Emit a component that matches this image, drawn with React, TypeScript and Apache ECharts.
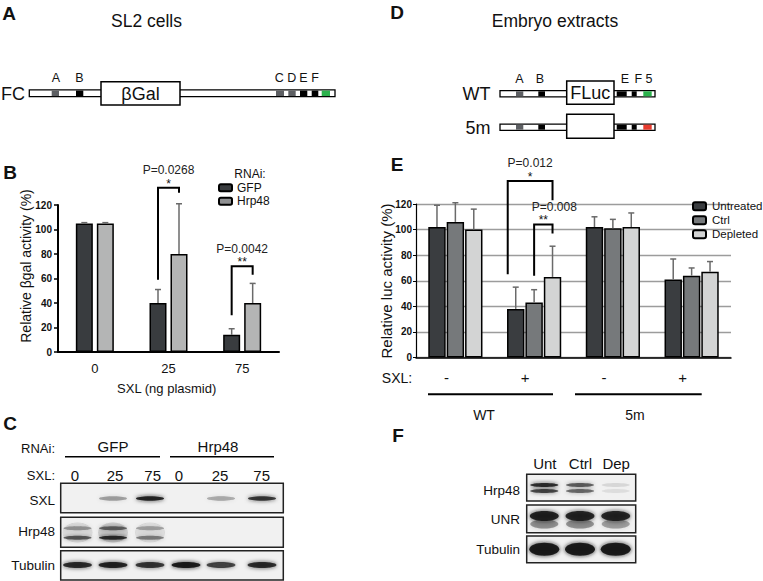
import React, { useEffect, useRef } from "react";
import * as echarts from "echarts";

// ---------- Panel B data ----------
const bCategories = ["0", "25", "75"];
const bSeriesNames = ["GFP", "Hrp48"];
const bGFP = [105, 40, 14];
const bGFPErr = [105.6, 51, 19];
const bHrp48 = [105, 80, 40];
const bHrp48Err = [105.6, 121, 56];
const bYTicks = { min: 0, max: 120, interval: 20 };
// [leftCat, leftBar, rightCat, rightBar, leftLegBottom, rightLegBottom, top]
const bBrackets = [
  [1, 0, 1, 1, 59, 130, 134],
  [2, 0, 2, 1, 30, 63, 70],
];
const bBracketP = ["P=0.0268", "P=0.0042"];
const bBracketStars = ["*", "**"];

// ---------- Panel E data ----------
const eCategories = ["-", "+", "-", "+"];
const eSeriesNames = ["Untreated", "Ctrl", "Depleted"];
const eUntreated = [102, 38, 102, 61];
const eUntreatedErr = [119, 55, 110, 77];
const eCtrl = [106, 43, 101, 64];
const eCtrlErr = [121, 53, 108, 70];
const eDepleted = [100, 63, 102, 67];
const eDepletedErr = [116, 87, 113, 75];
const eYTicks = { min: 0, max: 120, interval: 20 };
const eBrackets = [
  [1, 0, 1, 2, 65, 123, 138],
  [1, 1, 1, 2, 64, 97, 104],
];
const eBracketP = ["P=0.012", "P=0.008"];
const eBracketStars = ["*", "**"];
const eGroups = ["WT", "5m"];

// ---------- Blot data (band intensities, 0..1) ----------
const cRnai = ["GFP", "Hrp48"];
const cLanes = ["0", "25", "75", "0", "25", "75"];
const cRows = ["SXL", "Hrp48", "Tubulin"];
const cSXL = [0, 0.35, 0.9, 0, 0.3, 0.8];
const cHrp48Upper = [0.35, 0.55, 0.3, 0, 0, 0];
const cHrp48Lower = [0.6, 0.85, 0.45, 0, 0, 0];
const cTubulin = [0.85, 0.9, 0.8, 0.95, 0.7, 0.85];

const fLanes = ["Unt", "Ctrl", "Dep"];
const fRows = ["Hrp48", "UNR", "Tubulin"];
const fHrp48Upper = [0.85, 0.6, 0.1];
const fHrp48Lower = [0.7, 0.55, 0.08];
const fUNR = [0.9, 0.88, 0.88];
const fUNRSmear = [0.4, 0.4, 0.35];
const fTubulin = [0.95, 0.95, 0.95];

// ---------- layout constants ----------
const FONT = '"Liberation Sans", Arial, Helvetica, sans-serif';
const BAR_B = 17;
const GAP_B = 4;
const bOffsets = [-(BAR_B + GAP_B) / 2, (BAR_B + GAP_B) / 2];
const BAR_E = 17.4;
const GAP_E = 1;
const eOffsets = [-(BAR_E + GAP_E), 0, BAR_E + GAP_E];
const eLegDx = [
  [-8, 0],
  [0, 0],
];
const ePDx = [0, 11];

function txt(text: string, x: number, y: number, size: number, opts: any = {}) {
  return {
    type: "text",
    x,
    y,
    rotation: opts.rotation || 0,
    style: {
      text,
      fill: opts.color || "#111",
      font: `${opts.bold ? "bold " : ""}${size}px ${FONT}`,
      align: opts.align || "center",
      verticalAlign: "middle",
      textAlign: opts.align || "center",
      textVerticalAlign: "middle",
    },
    silent: true,
  };
}

function rect(x0: number, y0: number, x1: number, y1: number, style: any) {
  return { type: "rect", shape: { x: x0, y: y0, width: x1 - x0, height: y1 - y0 }, style, silent: true };
}

function line(x1: number, y1: number, x2: number, y2: number, w = 1.5) {
  return { type: "line", shape: { x1, y1, x2, y2 }, style: { stroke: "#000", lineWidth: w }, silent: true };
}

function construct(
  x0: number,
  x1: number,
  yc: number,
  h: number,
  segs: [number, number, string][],
  box: [number, number, number, number],
  boxText: string
) {
  const els: any[] = [];
  els.push(rect(x0, yc - h / 2, x1, yc + h / 2, { fill: "#fff", stroke: "#000", lineWidth: 1.3 }));
  segs.forEach(([a, b, c]) => els.push(rect(a, yc - h / 2 + 0.6, b, yc + h / 2 - 0.6, { fill: c })));
  els.push(rect(box[0], box[1], box[2], box[3], { fill: "#fff", stroke: "#000", lineWidth: 1.5 }));
  if (boxText) els.push(txt(boxText, (box[0] + box[2]) / 2, (box[1] + box[3]) / 2 + 0.5, 18));
  return els;
}

function band(cx: number, cy: number, w: number, h: number, a: number) {
  if (a <= 0) return null;
  const c = `rgba(22,22,22,${a})`;
  return {
    type: "ellipse",
    shape: { cx, cy, rx: w / 2, ry: h / 2 },
    style: { fill: c, shadowBlur: 4, shadowColor: c },
    silent: true,
  };
}

function errorSeries(name: string, gi: number, vals: number[], errs: number[], offset: number) {
  return {
    type: "custom",
    name: name + " err",
    xAxisIndex: gi,
    yAxisIndex: gi,
    data: vals.map((v, i) => [i, v, errs[i]]),
    encode: { x: 0, y: [1, 2] },
    z: 4,
    silent: true,
    renderItem: (params: any, api: any) => {
      const c = api.value(0);
      const p0 = api.coord([c, api.value(1)]);
      const p1 = api.coord([c, api.value(2)]);
      const x = p0[0] + offset;
      const st = { stroke: "#6a6a6a", lineWidth: 1.5 };
      return {
        type: "group",
        children: [
          { type: "line", shape: { x1: x, y1: p0[1], x2: x, y2: p1[1] }, style: st },
          { type: "line", shape: { x1: x - 3, y1: p1[1], x2: x + 3, y2: p1[1] }, style: st },
        ],
      };
    },
  };
}

function bracketSeries(
  gi: number,
  data: number[][],
  offsets: number[],
  pTexts: string[],
  stars: string[],
  legDx: number[][],
  pDx: number[],
  pGap: number
) {
  return {
    type: "custom",
    name: "brackets" + gi,
    xAxisIndex: gi,
    yAxisIndex: gi,
    data,
    encode: { x: [0, 2], y: [4, 5, 6] },
    z: 5,
    silent: true,
    renderItem: (params: any, api: any) => {
      const i = params.dataIndex;
      const lBot = api.coord([api.value(0), api.value(4)]);
      const rBot = api.coord([api.value(2), api.value(5)]);
      const top = api.coord([api.value(0), api.value(6)]);
      const xl = lBot[0] + offsets[api.value(1)] + legDx[i][0];
      const xr = rBot[0] + offsets[api.value(3)] + legDx[i][1];
      const yt = top[1];
      const xm = (xl + xr) / 2;
      return {
        type: "group",
        children: [
          {
            type: "polyline",
            shape: { points: [[xl, lBot[1]], [xl, yt], [xr, yt], [xr, rBot[1]]] },
            style: { stroke: "#000", lineWidth: 2, fill: "none" },
          },
          {
            type: "text",
            x: xm + pDx[i],
            y: yt - pGap,
            style: { text: pTexts[i], fill: "#222", font: `12px ${FONT}`, align: "center", verticalAlign: "middle" },
          },
          {
            type: "text",
            x: xm,
            y: yt - 4,
            style: { text: stars[i], fill: "#111", font: `12px ${FONT}`, align: "center", verticalAlign: "middle" },
          },
        ],
      };
    },
  };
}

function buildGraphics() {
  const g: any[] = [];
  // Panel letters
  g.push(txt("A", 9, 13, 19, { bold: true }));
  g.push(txt("B", 10, 172, 19, { bold: true }));
  g.push(txt("C", 10, 423, 19, { bold: true }));
  g.push(txt("D", 397, 12, 19, { bold: true }));
  g.push(txt("E", 397, 164, 19, { bold: true }));
  g.push(txt("F", 398, 435, 19, { bold: true }));

  // Panel A
  g.push(txt("SL2 cells", 146.5, 21, 17.5));
  g.push(txt("FC", 13, 93.5, 18));
  g.push(
    ...construct(
      29.3,
      335,
      93.3,
      6.7,
      [
        [51.7, 59, "#5d5f63"],
        [76, 83.3, "#000"],
        [276, 284, "#5d5f63"],
        [288.3, 295.7, "#5d5f63"],
        [300, 307.3, "#000"],
        [311.7, 318.3, "#000"],
        [321.7, 330, "#2bb24c"],
      ],
      [101, 81.7, 180, 105],
      "βGal"
    )
  );
  const aSites: [string, number][] = [
    ["A", 56],
    ["B", 79.3],
    ["C", 279.3],
    ["D", 291.7],
    ["E", 303.3],
    ["F", 315],
  ];
  aSites.forEach(([t, x]) => g.push(txt(t, x, 77.5, 12.5)));

  // Panel D
  g.push(txt("Embryo extracts", 555, 21, 17.5));
  g.push(txt("WT", 476.5, 94, 18));
  g.push(txt("5m", 478, 127.5, 18));
  const dSegs = (col: string): [number, number, string][] => [
    [516, 523.3, "#5d5f63"],
    [538.3, 545, "#000"],
    [616.7, 626.7, "#000"],
    [631.7, 636.7, "#000"],
    [643.3, 651.7, col],
  ];
  g.push(...construct(500, 655, 93.8, 6.2, dSegs("#2bb24c"), [566.7, 81, 614, 104.3], "FLuc"));
  g.push(...construct(500, 655, 127.2, 6.2, dSegs("#e63b2e"), [566.7, 114.3, 614, 138.3], ""));
  const dSites: [string, number][] = [
    ["A", 519.3],
    ["B", 540],
    ["E", 625],
    ["F", 638.3],
    ["5", 649],
  ];
  dSites.forEach(([t, x]) => g.push(txt(t, x, 78.5, 12.5)));

  // Panel B extras
  g.push(txt("Relative βgal activity (%)", 26, 266, 14, { rotation: Math.PI / 2 }));
  g.push(txt("SXL (ng plasmid)", 166.7, 388.5, 13));
  g.push(txt("RNAi:", 250, 173.5, 12));

  // Panel E extras
  g.push(txt("Relative luc activity (%)", 386, 281, 15, { rotation: Math.PI / 2 }));
  g.push(txt("SXL:", 397, 378, 14));
  g.push(line(428, 394.3, 553, 394.3, 2));
  g.push(line(575, 394.3, 701.7, 394.3, 2));
  g.push(txt(eGroups[0], 484, 415, 14));
  g.push(txt(eGroups[1], 635, 415, 14));

  // Panel C blot
  g.push(txt("RNAi:", 55, 448, 13, { align: "right" }));
  g.push(txt(cRnai[0], 113, 446.5, 15));
  g.push(txt(cRnai[1], 218, 446.5, 15));
  g.push(line(65, 456.7, 160, 456.7, 1.5));
  g.push(line(170, 456.7, 274, 456.7, 1.5));
  g.push(txt("SXL:", 55, 475, 13, { align: "right" }));
  const cLabelX = [75, 115, 152.7, 179, 220, 261.7];
  cLanes.forEach((t, i) => g.push(txt(t, cLabelX[i], 475.5, 15)));
  const cLaneX = [77.5, 113, 150, 186, 221, 262];
  const cRowY: [number, number][] = [
    [483.3, 512.7],
    [517.3, 547.3],
    [550.7, 580],
  ];
  const cRowLabelY = [500.7, 531.7, 565];
  cRows.forEach((r, i) => {
    g.push(rect(60.7, cRowY[i][0], 283.3, cRowY[i][1], { fill: "#f1f1f1", stroke: "#222", lineWidth: 1.5 }));
    g.push(txt(r, 55, cRowLabelY[i], 13.5, { align: "right" }));
  });
  cLaneX.forEach((x, i) => {
    const b1 = band(x, 498.5, 28, 4.5, cSXL[i]);
    if (b1) g.push(b1);
    if (cHrp48Lower[i] > 0) {
      g.push({
        type: "ellipse",
        shape: { cx: x, cy: 532.5, rx: 15, ry: 10 },
        style: { fill: `rgba(40,40,40,${cHrp48Upper[i] * 0.3})`, shadowBlur: 5, shadowColor: "rgba(40,40,40,0.2)" },
        silent: true,
      });
    }
    const b2 = band(x, 528.3, 28, 4, cHrp48Upper[i]);
    if (b2) g.push(b2);
    const b3 = band(x, 537.7, 28, 4, cHrp48Lower[i]);
    if (b3) g.push(b3);
    const b4 = band(x, 565, 29, 6, cTubulin[i]);
    if (b4) g.push(b4);
  });

  // Panel F blot
  const fLaneX = [544.3, 580, 615.7];
  fLanes.forEach((t, i) => g.push(txt(t, fLaneX[i] + 0.5, 463, 15)));
  const fRowY: [number, number][] = [
    [474.3, 501],
    [505, 532.7],
    [536, 562.7],
  ];
  const fRowLabelY = [490, 519, 549];
  fRows.forEach((r, i) => {
    g.push(rect(526.7, fRowY[i][0], 635.7, fRowY[i][1], { fill: "#f1f1f1", stroke: "#222", lineWidth: 1.5 }));
    g.push(txt(r, 520, fRowLabelY[i], 13.5, { align: "right" }));
  });
  fLaneX.forEach((x, i) => {
    const a = band(x, 485, 28, 4, fHrp48Upper[i]);
    if (a) g.push(a);
    const b = band(x, 491, 28, 4, fHrp48Lower[i]);
    if (b) g.push(b);
    const s = band(x, 524, 28, 9, fUNRSmear[i]);
    if (s) g.push(s);
    const u = band(x, 516, 29, 10, fUNR[i]);
    if (u) g.push(u);
    const t = band(x, 549.3, 30, 13, fTubulin[i]);
    if (t) g.push(t);
  });

  return g;
}

export default function App() {
  const ref = useRef<HTMLDivElement>(null);
  useEffect(() => {
    if (!ref.current) return;
    const chart = echarts.init(ref.current, undefined, { renderer: "svg" });
    const barStyle = (color: string) => ({ color, borderColor: "#000", borderWidth: 1.5 });
    const option: any = {
      animation: false,
      backgroundColor: "#fff",
      textStyle: { fontFamily: FONT },
      legend: [
        {
          data: [bSeriesNames[0], { name: bSeriesNames[1], itemStyle: { color: "#8f9092" } }],
          orient: "vertical",
          left: 218,
          top: 181.5,
          padding: 0,
          itemWidth: 13,
          itemHeight: 7,
          itemGap: 1,
          selectedMode: false,
          textStyle: { fontSize: 12, color: "#111", lineHeight: 12.5 },
        },
        {
          data: eSeriesNames,
          orient: "vertical",
          left: 692,
          top: 200,
          padding: 0,
          itemWidth: 13,
          itemHeight: 8,
          itemGap: 1.5,
          selectedMode: false,
          textStyle: { fontSize: 11.5, color: "#111", lineHeight: 12.5, padding: [0, 0, 0, 1] },
        },
      ],
      grid: [
        { left: 58, top: 205, width: 221, height: 147 },
        { left: 416, top: 204, width: 315, height: 153.5 },
      ],
      xAxis: [
        {
          type: "category",
          gridIndex: 0,
          data: bCategories,
          axisLine: { lineStyle: { color: "#000", width: 2 } },
          axisTick: { show: false },
          axisLabel: { fontSize: 13, color: "#111", margin: 10 },
        },
        {
          type: "category",
          gridIndex: 1,
          data: eCategories,
          axisLine: { lineStyle: { color: "#000", width: 1.5 } },
          axisTick: { show: false },
          axisLabel: { fontSize: 15, color: "#111", margin: 12, padding: [0, 18, 0, 0] },
        },
      ],
      yAxis: [
        {
          type: "value",
          gridIndex: 0,
          ...bYTicks,
          axisLine: { show: true, lineStyle: { color: "#000", width: 2 } },
          axisTick: { show: true, length: 4, lineStyle: { color: "#000", width: 1.5 } },
          axisLabel: { fontSize: 10, fontWeight: "bold", color: "#111", margin: 6 },
          splitLine: { show: false },
        },
        {
          type: "value",
          gridIndex: 1,
          ...eYTicks,
          axisLine: { show: true, lineStyle: { color: "#000", width: 1.2 } },
          axisTick: { show: true, length: 3, lineStyle: { color: "#000", width: 1 } },
          axisLabel: { fontSize: 10, fontWeight: "bold", color: "#111", margin: 4 },
          splitLine: { show: true, lineStyle: { color: "#9c9c9c", width: 1.3 } },
        },
      ],
      series: [
        {
          type: "bar",
          name: bSeriesNames[0],
          xAxisIndex: 0,
          yAxisIndex: 0,
          data: bGFP,
          barWidth: BAR_B,
          barGap: `${(GAP_B / BAR_B) * 100}%`,
          itemStyle: barStyle("#393c3f"),
        },
        {
          type: "bar",
          name: bSeriesNames[1],
          xAxisIndex: 0,
          yAxisIndex: 0,
          data: bHrp48,
          barWidth: BAR_B,
          barGap: `${(GAP_B / BAR_B) * 100}%`,
          itemStyle: barStyle("#b4b5b5"),
        },
        errorSeries("GFP", 0, bGFP, bGFPErr, bOffsets[0]),
        errorSeries("Hrp48", 0, bHrp48, bHrp48Err, bOffsets[1]),
        bracketSeries(0, bBrackets, bOffsets, bBracketP, bBracketStars, [[0, 0], [0, 0]], [0, 0], 17.5),
        {
          type: "bar",
          name: eSeriesNames[0],
          xAxisIndex: 1,
          yAxisIndex: 1,
          data: eUntreated,
          barWidth: BAR_E,
          barGap: `${(GAP_E / BAR_E) * 100}%`,
          itemStyle: barStyle("#3a3d40"),
        },
        {
          type: "bar",
          name: eSeriesNames[1],
          xAxisIndex: 1,
          yAxisIndex: 1,
          data: eCtrl,
          barWidth: BAR_E,
          barGap: `${(GAP_E / BAR_E) * 100}%`,
          itemStyle: barStyle("#76797b"),
        },
        {
          type: "bar",
          name: eSeriesNames[2],
          xAxisIndex: 1,
          yAxisIndex: 1,
          data: eDepleted,
          barWidth: BAR_E,
          barGap: `${(GAP_E / BAR_E) * 100}%`,
          itemStyle: barStyle("#d3d4d4"),
        },
        errorSeries("Untreated", 1, eUntreated, eUntreatedErr, eOffsets[0]),
        errorSeries("Ctrl", 1, eCtrl, eCtrlErr, eOffsets[1]),
        errorSeries("Depleted", 1, eDepleted, eDepletedErr, eOffsets[2]),
        bracketSeries(1, eBrackets, eOffsets, eBracketP, eBracketStars, eLegDx, ePDx, 17.5),
      ],
      graphic: { elements: buildGraphics() },
    };
    chart.setOption(option);
    return () => chart.dispose();
  }, []);
  return (
    <div
      ref={ref}
      style={{ position: "absolute", left: 0, top: 0, width: 763, height: 581, background: "#fff" }}
    />
  );
}
